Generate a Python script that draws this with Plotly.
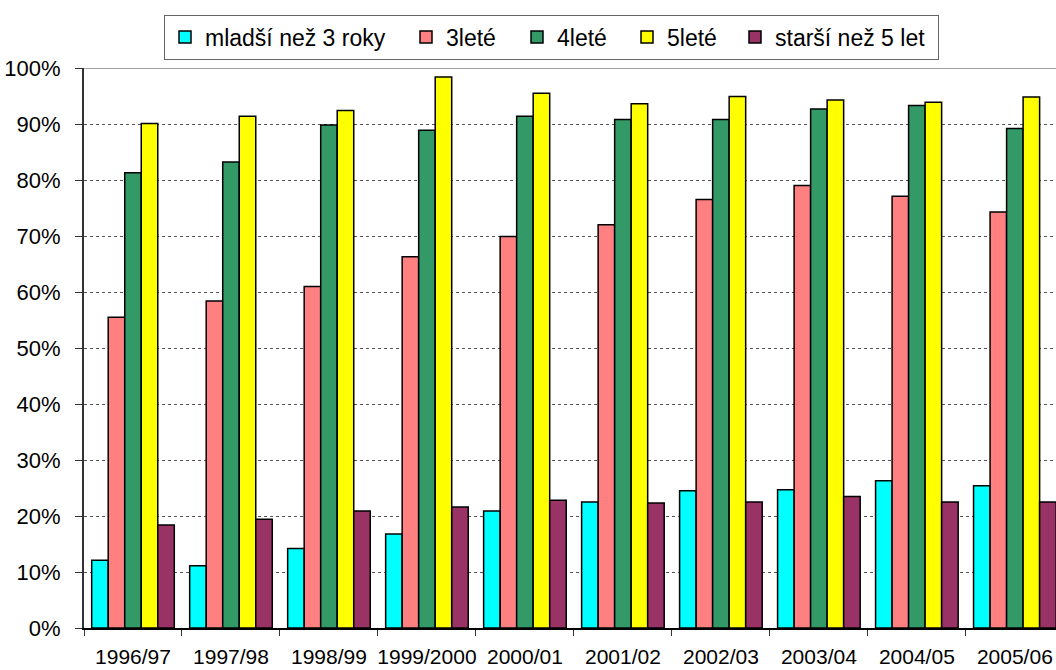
import plotly.graph_objects as go

# School years on the category axis
years = ["1996/97", "1997/98", "1998/99", "1999/2000", "2000/01",
         "2001/02", "2002/03", "2003/04", "2004/05", "2005/06"]

# Share of children in kindergartens by age group (percent)
mladsi_3 = [12.1, 11.1, 14.2, 16.8, 20.9, 22.5, 24.5, 24.7, 26.3, 25.4]
lete_3 = [55.5, 58.4, 61.0, 66.3, 69.9, 72.0, 76.5, 79.0, 77.1, 74.3]
lete_4 = [81.3, 83.2, 89.8, 88.9, 91.4, 90.8, 90.8, 92.7, 93.3, 89.2]
lete_5 = [90.1, 91.4, 92.4, 98.4, 95.5, 93.6, 94.9, 94.3, 93.9, 94.8]
starsi_5 = [18.4, 19.4, 20.9, 21.6, 22.8, 22.3, 22.5, 23.5, 22.5, 22.5]

series = [
    ("mladší než 3 roky", mladsi_3, "#00FFFF", 196),
    ("3leté", lete_3, "#FF8080", 66),
    ("4leté", lete_4, "#339966", 65),
    ("5leté", lete_5, "#FFFF00", 63),
    ("starší než 5 let", starsi_5, "#993366", 158),
]

fig = go.Figure()
for name, vals, color, lw in series:
    fig.add_trace(go.Bar(
        x=years, y=vals, name=name,
        marker=dict(color=color, line=dict(color="#000000", width=1.5)),
        legendwidth=lw,
    ))

font_family = "Liberation Sans, Arial, sans-serif"

fig.update_layout(
    width=1056, height=670,
    margin=dict(l=84, r=0, t=68, b=42),
    paper_bgcolor="white", plot_bgcolor="white",
    barmode="group", bargap=0.157, bargroupgap=0,
    font=dict(family=font_family, size=22, color="#000000"),
    showlegend=True,
    legend=dict(
        orientation="h",
        xref="container", yref="container",
        x=164 / 1056, xanchor="left",
        y=1 - 14.5 / 670, yanchor="top",
        bordercolor="#666666", borderwidth=1,
        bgcolor="white",
        font=dict(family=font_family, size=23, color="#000000"),
        itemwidth=30,
        traceorder="normal",
    ),
    xaxis=dict(
        type="category",
        range=[-0.5, 9.42],
        automargin=False,
        tickangle=0,
        showgrid=False,
        showline=True, linecolor="#000000", linewidth=2,
        ticks="outside", ticklen=6, tickwidth=1, tickcolor="#333333",
        tickson="boundaries",
        ticklabelstandoff=9,
        tickfont=dict(family=font_family, size=21, color="#000000"),
    ),
    yaxis=dict(
        range=[0, 100],
        automargin=False,
        dtick=10, tick0=0,
        ticksuffix="%",
        showgrid=True, gridcolor="#555555", gridwidth=1, griddash="dot",
        showline=True, linecolor="#333333", linewidth=2,
        ticks="outside", ticklen=7, tickwidth=1, tickcolor="#333333",
        ticklabelstandoff=10,
        zeroline=False,
        tickfont=dict(family=font_family, size=22, color="#000000"),
    ),
)

# Solid top border of the plotting area at 100 %
fig.add_shape(type="line", xref="paper", yref="y", x0=0, x1=1, y0=100, y1=100,
              line=dict(color="#808080", width=1.5), layer="below")

fig.write_html("out.html")
